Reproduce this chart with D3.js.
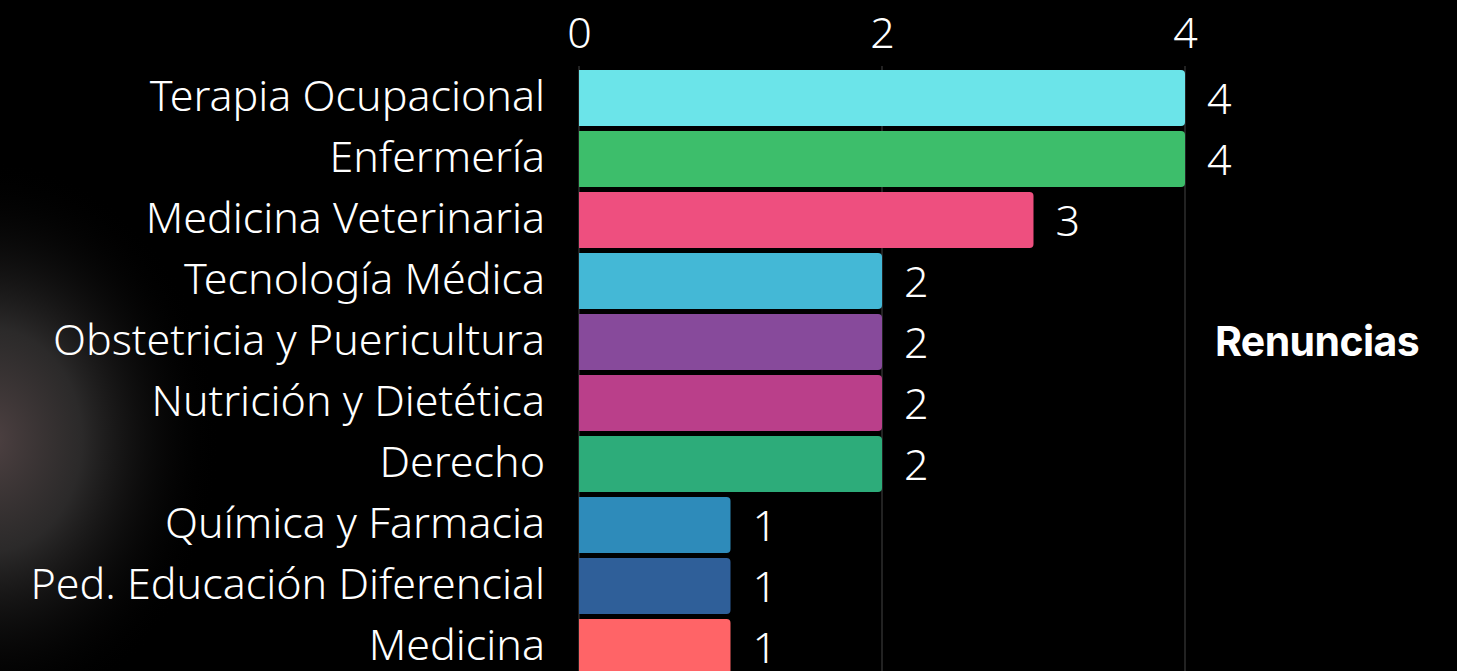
<!DOCTYPE html>
<meta charset="utf-8">
<style>
body { margin: 0; background: #000; overflow: hidden; }
.label { font-family: "Noto Sans", sans-serif; font-weight: 300; fill: #fff; }
.tick text { font-family: "Noto Sans", sans-serif; font-weight: 300; fill: #fff; }
</style>
<svg id="chart" width="1457" height="671"></svg>
<script src="https://cdn.jsdelivr.net/npm/d3@7"></script>
<script>

var categories = ["Terapia Ocupacional", "Enfermería", "Medicina Veterinaria", "Tecnología Médica",
  "Obstetricia y Puericultura", "Nutrición y Dietética", "Derecho", "Química y Farmacia",
  "Ped. Educación Diferencial", "Medicina"];
var renuncias = [4, 4, 3, 2, 2, 2, 2, 1, 1, 1];
var colors = ["#6be4e9", "#3dbe6b", "#ee4f7f", "#44b8d6", "#874a9b", "#ba3f8a", "#2dac7a",
  "#2e8bba", "#2f5f99", "#ff6467"];
var tickValues = [0, 2, 4];
var seriesName = "Renuncias";

var data = categories.map(function(c, i) {
  return {name: c, value: renuncias[i], color: colors[i]};
});

var svg = d3.select("svg");

// soft glow on the left side of the background
var defs = svg.append("defs");
var grad = defs.append("radialGradient")
    .attr("id", "glow")
    .attr("cx", 0.5).attr("cy", 0.5).attr("r", 0.5);
grad.append("stop").attr("offset", "0%").attr("stop-color", "#4e4142").attr("stop-opacity", 1);
grad.append("stop").attr("offset", "40%").attr("stop-color", "#363434").attr("stop-opacity", 0.8);
grad.append("stop").attr("offset", "100%").attr("stop-color", "#000").attr("stop-opacity", 0);

svg.append("rect").attr("width", 1457).attr("height", 671).attr("fill", "#000");
svg.append("ellipse")
    .attr("cx", -10).attr("cy", 440)
    .attr("rx", 230).attr("ry", 280)
    .attr("fill", "url(#glow)");

var x = d3.scaleLinear().domain([0, 4]).range([579, 1185]);
var y = d3.scaleBand().domain(categories).range([65, 680]).padding(0.082);

// gridlines
svg.append("g")
  .selectAll("line")
  .data(tickValues)
  .join("line")
    .attr("x1", function(d) { return x(d); })
    .attr("x2", function(d) { return x(d); })
    .attr("y1", 66)
    .attr("y2", 671)
    .attr("stroke", "#3a3a3a")
    .attr("stroke-width", 1.2);

// top axis
var axis = svg.append("g")
    .attr("transform", "translate(0,48)")
    .call(d3.axisTop(x).tickValues(tickValues).tickFormat(d3.format("d")).tickSize(0).tickPadding(0));
axis.select(".domain").remove();
axis.selectAll(".tick text").attr("font-size", 43).attr("dy", 0);

// bars with rounded right end
function barPath(d) {
  var x0 = x(0), x1 = x(d.value), y0 = y(d.name), h = y.bandwidth(), r = 4;
  return "M" + x0 + "," + y0 +
    "H" + (x1 - r) + "Q" + x1 + "," + y0 + " " + x1 + "," + (y0 + r) +
    "V" + (y0 + h - r) + "Q" + x1 + "," + (y0 + h) + " " + (x1 - r) + "," + (y0 + h) +
    "H" + x0 + "Z";
}

svg.append("g")
  .selectAll("path")
  .data(data)
  .join("path")
    .attr("d", barPath)
    .attr("fill", function(d) { return d.color; });

// category labels
svg.append("g")
  .selectAll("text")
  .data(data)
  .join("text")
    .attr("class", "label")
    .attr("x", 545)
    .attr("y", function(d) { return y(d.name) + y.bandwidth() / 2 - 2; })
    .attr("dy", "0.35em")
    .attr("text-anchor", "end")
    .attr("font-size", 43)
    .text(function(d) { return d.name; });

// value labels
svg.append("g")
  .selectAll("text")
  .data(data)
  .join("text")
    .attr("class", "label")
    .attr("x", function(d) { return x(d.value) + 22; })
    .attr("y", function(d) { return y(d.name) + y.bandwidth() / 2 + 1; })
    .attr("dy", "0.35em")
    .attr("font-size", 43)
    .text(function(d) { return d.value; });

// series label
svg.append("text")
    .attr("x", 1215)
    .attr("y", 342)
    .attr("dy", "0.35em")
    .attr("font-family", "Inter, sans-serif")
    .attr("font-weight", 700)
    .attr("font-size", 41)
    .attr("letter-spacing", "-0.6")
    .attr("fill", "#fff")
    .text(seriesName);

</script>
